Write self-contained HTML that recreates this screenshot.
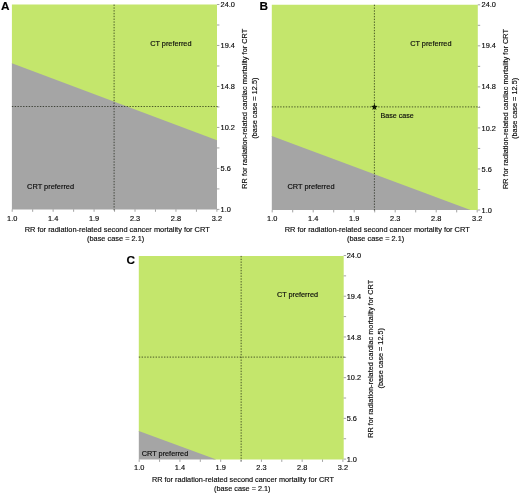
<!DOCTYPE html>
<html><head><meta charset="utf-8"><title>Figure</title>
<style>
html,body{margin:0;padding:0;background:#fff;}
svg{display:block;will-change:transform;filter:opacity(1);}
text{font-family:"Liberation Sans",Arial,Helvetica,sans-serif;font-size:7.4px;fill:#0a0a0a;stroke:#0a0a0a;stroke-width:0.15px;}
.b{font-weight:bold;font-size:11.8px;fill:#000;stroke:#000;stroke-width:0.15px;}
.d{stroke:rgba(10,16,0,0.72);stroke-width:0.9;stroke-dasharray:1.4 1.4;}
.t{stroke:#666;stroke-width:0.6;}
</style></head>
<body>
<svg width="520" height="494" viewBox="0 0 520 494">
<rect width="520" height="494" fill="#ffffff"/>
<g>
<polygon points="11.9,4.55 217.0,4.55 217.0,141.30 11.9,64.30" fill="#c4e66c"/>
<polygon points="11.9,63.3 217.0,140.3 217.0,209.4 11.9,209.4" fill="#a5a5a5"/>
<line x1="11.9" y1="106.50" x2="218.80" y2="106.50" class="d"/>
<line x1="114.10" y1="4.55" x2="114.10" y2="211.20" class="d"/>
<line x1="217.0" y1="4.50" x2="219.40" y2="4.50" class="t"/>
<line x1="12.20" y1="209.4" x2="12.20" y2="211.80" class="t"/>
<line x1="217.0" y1="24.99" x2="219.40" y2="24.99" class="t"/>
<line x1="32.67" y1="209.4" x2="32.67" y2="211.80" class="t"/>
<line x1="217.0" y1="45.48" x2="219.40" y2="45.48" class="t"/>
<line x1="53.14" y1="209.4" x2="53.14" y2="211.80" class="t"/>
<line x1="217.0" y1="65.97" x2="219.40" y2="65.97" class="t"/>
<line x1="73.61" y1="209.4" x2="73.61" y2="211.80" class="t"/>
<line x1="217.0" y1="86.46" x2="219.40" y2="86.46" class="t"/>
<line x1="94.08" y1="209.4" x2="94.08" y2="211.80" class="t"/>
<line x1="217.0" y1="106.95" x2="219.40" y2="106.95" class="t"/>
<line x1="114.55" y1="209.4" x2="114.55" y2="211.80" class="t"/>
<line x1="217.0" y1="127.44" x2="219.40" y2="127.44" class="t"/>
<line x1="135.02" y1="209.4" x2="135.02" y2="211.80" class="t"/>
<line x1="217.0" y1="147.93" x2="219.40" y2="147.93" class="t"/>
<line x1="155.49" y1="209.4" x2="155.49" y2="211.80" class="t"/>
<line x1="217.0" y1="168.42" x2="219.40" y2="168.42" class="t"/>
<line x1="175.96" y1="209.4" x2="175.96" y2="211.80" class="t"/>
<line x1="217.0" y1="188.91" x2="219.40" y2="188.91" class="t"/>
<line x1="196.43" y1="209.4" x2="196.43" y2="211.80" class="t"/>
<line x1="217.0" y1="209.40" x2="219.40" y2="209.40" class="t"/>
<line x1="216.90" y1="209.4" x2="216.90" y2="211.80" class="t"/>
<text x="220.60" y="7.10">24.0</text>
<text x="220.60" y="48.08">19.4</text>
<text x="220.60" y="89.06">14.8</text>
<text x="220.60" y="130.04">10.2</text>
<text x="220.60" y="171.02">5.6</text>
<text x="220.60" y="212.00">1.0</text>
<text x="12.20" y="220.50" text-anchor="middle">1.0</text>
<text x="53.14" y="220.50" text-anchor="middle">1.4</text>
<text x="94.08" y="220.50" text-anchor="middle">1.9</text>
<text x="135.02" y="220.50" text-anchor="middle">2.3</text>
<text x="175.96" y="220.50" text-anchor="middle">2.8</text>
<text x="216.90" y="220.50" text-anchor="middle">3.2</text>
<text x="24.70" y="231.90" textLength="185.0" lengthAdjust="spacingAndGlyphs">RR for radiation-related second cancer mortality for CRT</text>
<text x="87.00" y="240.90" textLength="57.2" lengthAdjust="spacingAndGlyphs">(base case = 2.1)</text>
<text transform="translate(247.40,108.75) rotate(-90)" text-anchor="middle" textLength="160.0" lengthAdjust="spacingAndGlyphs">RR for radiation-related cardiac mortality for CRT</text>
<text transform="translate(256.60,108.10) rotate(-90)" text-anchor="middle" textLength="61.2" lengthAdjust="spacingAndGlyphs">(base case = 12.5)</text>
<text x="1.1" y="9.8" class="b">A</text>
<text x="27.10" y="188.60" textLength="47" lengthAdjust="spacingAndGlyphs">CRT preferred</text><text x="150.20" y="45.60" textLength="41.3" lengthAdjust="spacingAndGlyphs">CT preferred</text>
</g>
<g>
<polygon points="271.8,4.7 477.8,4.7 477.8,210.0 467.82,210.0 271.8,136.90" fill="#c4e66c"/>
<polygon points="271.8,135.9 470.5,210.0 271.8,210.0" fill="#a5a5a5"/>
<line x1="271.8" y1="106.90" x2="479.60" y2="106.90" class="d"/>
<line x1="374.40" y1="4.7" x2="374.40" y2="211.80" class="d"/>
<line x1="477.8" y1="4.80" x2="480.20" y2="4.80" class="t"/>
<line x1="272.20" y1="210.0" x2="272.20" y2="212.40" class="t"/>
<line x1="477.8" y1="25.32" x2="480.20" y2="25.32" class="t"/>
<line x1="292.70" y1="210.0" x2="292.70" y2="212.40" class="t"/>
<line x1="477.8" y1="45.84" x2="480.20" y2="45.84" class="t"/>
<line x1="313.20" y1="210.0" x2="313.20" y2="212.40" class="t"/>
<line x1="477.8" y1="66.36" x2="480.20" y2="66.36" class="t"/>
<line x1="333.70" y1="210.0" x2="333.70" y2="212.40" class="t"/>
<line x1="477.8" y1="86.88" x2="480.20" y2="86.88" class="t"/>
<line x1="354.20" y1="210.0" x2="354.20" y2="212.40" class="t"/>
<line x1="477.8" y1="107.40" x2="480.20" y2="107.40" class="t"/>
<line x1="374.70" y1="210.0" x2="374.70" y2="212.40" class="t"/>
<line x1="477.8" y1="127.92" x2="480.20" y2="127.92" class="t"/>
<line x1="395.20" y1="210.0" x2="395.20" y2="212.40" class="t"/>
<line x1="477.8" y1="148.44" x2="480.20" y2="148.44" class="t"/>
<line x1="415.70" y1="210.0" x2="415.70" y2="212.40" class="t"/>
<line x1="477.8" y1="168.96" x2="480.20" y2="168.96" class="t"/>
<line x1="436.20" y1="210.0" x2="436.20" y2="212.40" class="t"/>
<line x1="477.8" y1="189.48" x2="480.20" y2="189.48" class="t"/>
<line x1="456.70" y1="210.0" x2="456.70" y2="212.40" class="t"/>
<line x1="477.8" y1="210.00" x2="480.20" y2="210.00" class="t"/>
<line x1="477.20" y1="210.0" x2="477.20" y2="212.40" class="t"/>
<text x="481.60" y="7.40">24.0</text>
<text x="481.60" y="48.44">19.4</text>
<text x="481.60" y="89.48">14.8</text>
<text x="481.60" y="130.52">10.2</text>
<text x="481.60" y="171.56">5.6</text>
<text x="481.60" y="212.60">1.0</text>
<text x="272.20" y="221.10" text-anchor="middle">1.0</text>
<text x="313.20" y="221.10" text-anchor="middle">1.4</text>
<text x="354.20" y="221.10" text-anchor="middle">1.9</text>
<text x="395.20" y="221.10" text-anchor="middle">2.3</text>
<text x="436.20" y="221.10" text-anchor="middle">2.8</text>
<text x="477.20" y="221.10" text-anchor="middle">3.2</text>
<text x="284.70" y="232.30" textLength="185.0" lengthAdjust="spacingAndGlyphs">RR for radiation-related second cancer mortality for CRT</text>
<text x="347.00" y="241.30" textLength="57.2" lengthAdjust="spacingAndGlyphs">(base case = 2.1)</text>
<text transform="translate(507.60,109.00) rotate(-90)" text-anchor="middle" textLength="160.0" lengthAdjust="spacingAndGlyphs">RR for radiation-related cardiac mortality for CRT</text>
<text transform="translate(516.80,108.40) rotate(-90)" text-anchor="middle" textLength="61.2" lengthAdjust="spacingAndGlyphs">(base case = 12.5)</text>
<text x="259.6" y="9.6" class="b">B</text>
<text x="287.50" y="189.40" textLength="47" lengthAdjust="spacingAndGlyphs">CRT preferred</text><text x="410.20" y="45.60" textLength="41.3" lengthAdjust="spacingAndGlyphs">CT preferred</text><text x="380.50" y="117.70" textLength="33.3" lengthAdjust="spacingAndGlyphs">Base case</text><polygon points="374.40,103.40 375.22,105.87 377.82,105.89 375.73,107.43 376.52,109.91 374.40,108.40 372.28,109.91 373.07,107.43 370.98,105.89 373.58,105.87" fill="#0c1400"/>
</g>
<g>
<polygon points="138.8,255.9 343.7,255.9 343.7,459.5 213.58,459.5 138.8,432.00" fill="#c4e66c"/>
<polygon points="138.8,431.0 216.3,459.5 138.8,459.5" fill="#a5a5a5"/>
<line x1="138.8" y1="357.10" x2="345.50" y2="357.10" class="d"/>
<line x1="241.15" y1="255.9" x2="241.15" y2="461.30" class="d"/>
<line x1="343.7" y1="255.50" x2="346.10" y2="255.50" class="t"/>
<line x1="139.20" y1="459.5" x2="139.20" y2="461.90" class="t"/>
<line x1="343.7" y1="275.86" x2="346.10" y2="275.86" class="t"/>
<line x1="159.57" y1="459.5" x2="159.57" y2="461.90" class="t"/>
<line x1="343.7" y1="296.22" x2="346.10" y2="296.22" class="t"/>
<line x1="179.94" y1="459.5" x2="179.94" y2="461.90" class="t"/>
<line x1="343.7" y1="316.58" x2="346.10" y2="316.58" class="t"/>
<line x1="200.31" y1="459.5" x2="200.31" y2="461.90" class="t"/>
<line x1="343.7" y1="336.94" x2="346.10" y2="336.94" class="t"/>
<line x1="220.68" y1="459.5" x2="220.68" y2="461.90" class="t"/>
<line x1="343.7" y1="357.30" x2="346.10" y2="357.30" class="t"/>
<line x1="241.05" y1="459.5" x2="241.05" y2="461.90" class="t"/>
<line x1="343.7" y1="377.66" x2="346.10" y2="377.66" class="t"/>
<line x1="261.42" y1="459.5" x2="261.42" y2="461.90" class="t"/>
<line x1="343.7" y1="398.02" x2="346.10" y2="398.02" class="t"/>
<line x1="281.79" y1="459.5" x2="281.79" y2="461.90" class="t"/>
<line x1="343.7" y1="418.38" x2="346.10" y2="418.38" class="t"/>
<line x1="302.16" y1="459.5" x2="302.16" y2="461.90" class="t"/>
<line x1="343.7" y1="438.74" x2="346.10" y2="438.74" class="t"/>
<line x1="322.53" y1="459.5" x2="322.53" y2="461.90" class="t"/>
<line x1="343.7" y1="459.10" x2="346.10" y2="459.10" class="t"/>
<line x1="342.90" y1="459.5" x2="342.90" y2="461.90" class="t"/>
<text x="346.70" y="258.10">24.0</text>
<text x="346.70" y="298.82">19.4</text>
<text x="346.70" y="339.54">14.8</text>
<text x="346.70" y="380.26">10.2</text>
<text x="346.70" y="420.98">5.6</text>
<text x="346.70" y="461.70">1.0</text>
<text x="139.20" y="470.20" text-anchor="middle">1.0</text>
<text x="179.94" y="470.20" text-anchor="middle">1.4</text>
<text x="220.68" y="470.20" text-anchor="middle">1.9</text>
<text x="261.42" y="470.20" text-anchor="middle">2.3</text>
<text x="302.16" y="470.20" text-anchor="middle">2.8</text>
<text x="342.90" y="470.20" text-anchor="middle">3.2</text>
<text x="151.90" y="481.70" textLength="182.0" lengthAdjust="spacingAndGlyphs">RR for radiation-related second cancer mortality for CRT</text>
<text x="214.00" y="491.00" textLength="56.5" lengthAdjust="spacingAndGlyphs">(base case = 2.1)</text>
<text transform="translate(373.30,358.85) rotate(-90)" text-anchor="middle" textLength="158.0" lengthAdjust="spacingAndGlyphs">RR for radiation-related cardiac mortality for CRT</text>
<text transform="translate(382.50,358.30) rotate(-90)" text-anchor="middle" textLength="60.4" lengthAdjust="spacingAndGlyphs">(base case = 12.5)</text>
<text x="126.6" y="263.9" class="b">C</text>
<text x="141.80" y="455.90" textLength="46.4" lengthAdjust="spacingAndGlyphs">CRT preferred</text><text x="276.90" y="296.70" textLength="41.2" lengthAdjust="spacingAndGlyphs">CT preferred</text>
</g>
</svg>
</body></html>
